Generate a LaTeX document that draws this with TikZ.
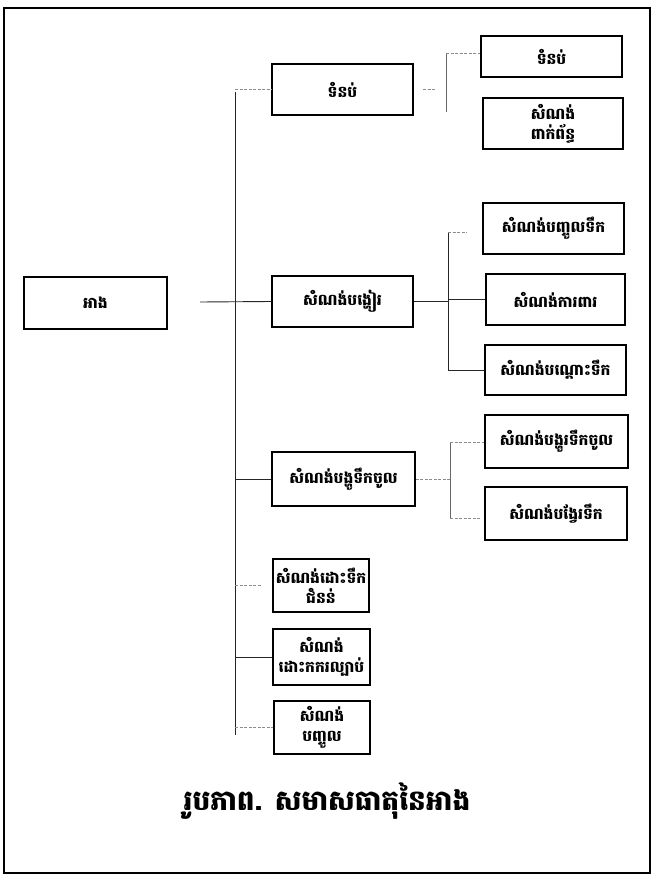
\documentclass[tikz,border=0pt]{standalone}
\usepackage{fontspec}
\newfontfamily\khmer[Script=Khmer]{Battambang}
\tikzset{
  x=1pt,y=-1pt,
  boxnode/.style={draw=black,line width=1.5pt,inner sep=0pt,align=center,font=\khmer\bfseries\fontsize{15.5}{20}\selectfont},
  solidline/.style={draw=black!85,line width=0.9pt},
  faintline/.style={draw=black!45,line width=0.7pt,dash pattern=on 3pt off 1.5pt},
}
\newcommand{\mybox}[6]{\node[boxnode,minimum width=#4-#2,minimum height=#5-#3] (#1) at ({(#2+#4)/2},{(#3+#5)/2}) {#6};}
\begin{document}
\begin{tikzpicture}
\useasboundingbox (0,0) rectangle (653,877);
\draw[black,line width=1.2pt] (4,8) rectangle (650,873);
% boxes
\mybox{ang}{24}{277}{167}{329}{អាង}
\mybox{dam}{272}{64}{413}{115}{ទំនប់}
\mybox{spill}{272}{276}{413}{327}{សំណង់បង្ហៀរ}
\mybox{inflow}{272}{452}{415}{506}{សំណង់បង្ហូទឹកចូល}
\mybox{flood}{273}{559}{369}{612}{សំណង់ដោះទឹក\\ជំនន់}
\mybox{sediment}{273}{629}{370}{685}{សំណង់\\ដោះកករល្បាប់}
\mybox{outlet}{274}{701}{370}{754}{សំណង់\\បញ្ចូល}
\mybox{damb}{481}{36}{622}{77}{ទំនប់}
\mybox{related}{483}{98}{623}{149}{សំណង់\\ពាក់ព័ន្ធ}
\mybox{intake}{483}{203}{624}{254}{សំណង់បញ្ចូលទឹក}
\mybox{protect}{486}{274}{625}{325}{សំណង់ការពារ}
\mybox{buffer}{485}{345}{626}{395}{សំណង់បណ្តោះទឹក}
\mybox{inflowb}{485}{415}{628}{468}{សំណង់បង្ហូរទឹកចូល}
\mybox{divert}{485}{487}{627}{540}{សំណង់បង្វែរទឹក}
% coordinates
\coordinate (start) at (200,302);
\coordinate (ttop) at (235,92);
\coordinate (tbot) at (235,735);
\coordinate (flend) at (262,585);
\coordinate (dA) at (423,89);
\coordinate (dB) at (436,89);
\coordinate (vdtop) at (446,53);
\coordinate (vdbot) at (446,112);
\coordinate (vstop) at (448,232);
\coordinate (vsbot) at (448,370);
\coordinate (intk) at (467,232);
\coordinate (vitop) at (450,442);
\coordinate (vibot) at (450,518);
% connectors
\draw[solidline] (start) -- (spill.west);
\draw[solidline] (ttop) -- (tbot);
\draw[faintline] (ttop |- dam.west) -- (dam.west);
\draw[solidline] (ttop |- inflow.west) -- (inflow.west);
\draw[faintline] (ttop |- flend) -- (flend);
\draw[solidline] (ttop |- sediment.west) -- (sediment.west);
\draw[faintline] (ttop |- outlet.west) -- (outlet.west);
\draw[faintline] (dA) -- (dB);
\draw[solidline,draw=black!60] (vdtop) -- (vdbot);
\draw[faintline] (vdtop) -- (vdtop -| damb.west);
\draw[solidline] (spill.east) -- (spill.east -| vstop);
\draw[solidline] (vstop) -- (vsbot);
\draw[faintline] (vstop) -- (intk);
\draw[solidline] (vstop |- protect.west) -- (protect.west);
\draw[solidline] (vsbot) -- (vsbot -| buffer.west);
\draw[faintline] (inflow.east) -- (inflow.east -| vitop);
\draw[solidline,draw=black!60] (vitop) -- (vibot);
\draw[faintline] (vitop) -- (vitop -| inflowb.west);
\draw[faintline] (vibot) -- (480,518);
% caption
\node[font=\khmer\bfseries\fontsize{28}{32}\selectfont] (cap) at (327,801) {រូបភាព. សមាសធាតុនៃអាង};
\end{tikzpicture}
\end{document}
